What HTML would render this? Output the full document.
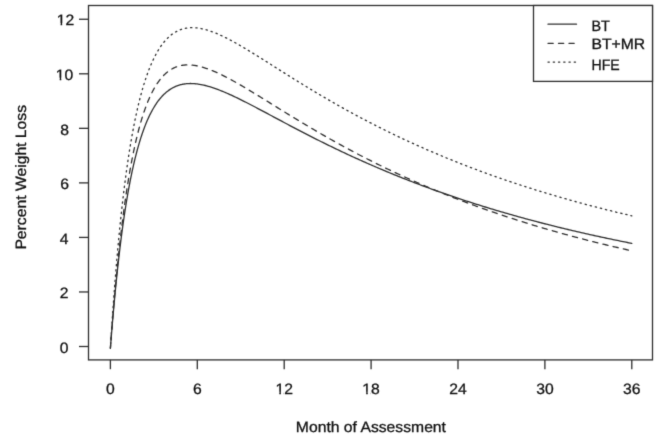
<!DOCTYPE html>
<html><head><meta charset="utf-8"><style>
html,body{margin:0;padding:0;background:#fff;}
svg{display:block;}
text{font-family:"Liberation Sans",sans-serif;font-size:15.0px;fill:#111;stroke:#111;stroke-width:0.3px;text-rendering:geometricPrecision;}
</style></head><body>
<svg width="656" height="434" viewBox="0 0 656 434">
<defs><filter id="bl" x="0" y="0" width="656" height="434" filterUnits="userSpaceOnUse" color-interpolation-filters="sRGB"><feConvolveMatrix order="3" preserveAlpha="true" kernelMatrix="0.01331 0.08876 0.01331 0.08876 0.59172 0.08876 0.01331 0.08876 0.01331"/></filter></defs>
<g filter="url(#bl)">
<rect width="656" height="434" fill="#fff"/>
<rect x="88.5" y="5.5" width="564.0" height="354.4" fill="none" stroke="#303030" stroke-width="1.31"/>
<line x1="79" y1="346.50" x2="88.5" y2="346.50" stroke="#303030" stroke-width="1.31"/>
<g transform="translate(64.10,353.10) scale(1.0470,1)"><text x="0" y="0" text-anchor="middle">0</text></g>
<line x1="79" y1="291.96" x2="88.5" y2="291.96" stroke="#303030" stroke-width="1.31"/>
<g transform="translate(64.20,298.47) scale(1.0470,1)"><text x="0" y="0" text-anchor="middle">2</text></g>
<line x1="79" y1="237.42" x2="88.5" y2="237.42" stroke="#303030" stroke-width="1.31"/>
<g transform="translate(64.20,243.84) scale(1.0470,1)"><text x="0" y="0" text-anchor="middle">4</text></g>
<line x1="79" y1="182.88" x2="88.5" y2="182.88" stroke="#303030" stroke-width="1.31"/>
<g transform="translate(64.50,189.20) scale(1.0470,1)"><text x="0" y="0" text-anchor="middle">6</text></g>
<line x1="79" y1="128.34" x2="88.5" y2="128.34" stroke="#303030" stroke-width="1.31"/>
<g transform="translate(64.50,134.57) scale(1.0470,1)"><text x="0" y="0" text-anchor="middle">8</text></g>
<line x1="79" y1="73.80" x2="88.5" y2="73.80" stroke="#303030" stroke-width="1.31"/>
<g transform="translate(64.60,79.94) scale(1.0470,1)"><text x="0" y="0" text-anchor="middle">10</text><rect x="-8.64" y="-2.25" width="3.95" height="3.45" fill="#fff"/><rect x="-3.16" y="-2.25" width="2.66" height="3.45" fill="#fff"/></g>
<line x1="79" y1="19.26" x2="88.5" y2="19.26" stroke="#303030" stroke-width="1.31"/>
<g transform="translate(65.50,25.31) scale(1.0470,1)"><text x="0" y="0" text-anchor="middle">12</text><rect x="-8.64" y="-2.25" width="3.95" height="3.45" fill="#fff"/><rect x="-3.16" y="-2.25" width="2.66" height="3.45" fill="#fff"/></g>
<line x1="110.40" y1="359.9" x2="110.40" y2="369.2" stroke="#303030" stroke-width="1.31"/>
<g transform="translate(110.40,393.90) scale(1.0470,1)"><text x="0" y="0" text-anchor="middle">0</text></g>
<line x1="197.30" y1="359.9" x2="197.30" y2="369.2" stroke="#303030" stroke-width="1.31"/>
<g transform="translate(197.30,393.90) scale(1.0470,1)"><text x="0" y="0" text-anchor="middle">6</text></g>
<line x1="284.20" y1="359.9" x2="284.20" y2="369.2" stroke="#303030" stroke-width="1.31"/>
<g transform="translate(284.20,393.90) scale(1.0470,1)"><text x="0" y="0" text-anchor="middle">12</text><rect x="-8.64" y="-2.25" width="3.95" height="3.45" fill="#fff"/><rect x="-3.16" y="-2.25" width="2.66" height="3.45" fill="#fff"/></g>
<line x1="371.09" y1="359.9" x2="371.09" y2="369.2" stroke="#303030" stroke-width="1.31"/>
<g transform="translate(371.09,393.90) scale(1.0470,1)"><text x="0" y="0" text-anchor="middle">18</text><rect x="-8.64" y="-2.25" width="3.95" height="3.45" fill="#fff"/><rect x="-3.16" y="-2.25" width="2.66" height="3.45" fill="#fff"/></g>
<line x1="457.99" y1="359.9" x2="457.99" y2="369.2" stroke="#303030" stroke-width="1.31"/>
<g transform="translate(457.99,393.90) scale(1.0470,1)"><text x="0" y="0" text-anchor="middle">24</text></g>
<line x1="544.89" y1="359.9" x2="544.89" y2="369.2" stroke="#303030" stroke-width="1.31"/>
<g transform="translate(544.89,393.90) scale(1.0470,1)"><text x="0" y="0" text-anchor="middle">30</text></g>
<line x1="631.79" y1="359.9" x2="631.79" y2="369.2" stroke="#303030" stroke-width="1.31"/>
<g transform="translate(631.79,393.90) scale(1.0470,1)"><text x="0" y="0" text-anchor="middle">36</text></g>
<g transform="translate(370.90,432.00) scale(1.0470,1)"><text x="0" y="0" text-anchor="middle">Month of Assessment</text></g>
<g transform="translate(25.50,177.30) rotate(-90) scale(1.0470,1)"><text x="0" y="0" text-anchor="middle">Percent Weight Loss</text></g>
<path d="M110.40,348.08 L111.12,338.75 L111.85,329.75 L112.57,321.07 L113.30,312.69 L114.02,304.60 L114.74,296.79 L115.47,289.25 L116.19,281.96 L116.92,274.93 L117.64,268.14 L118.37,261.58 L119.09,255.24 L119.81,249.12 L120.54,243.20 L121.26,237.48 L121.99,231.96 L122.71,226.62 L123.43,221.46 L124.16,216.47 L124.88,211.65 L125.61,206.99 L126.33,202.48 L127.06,198.12 L127.78,193.91 L128.50,189.84 L129.23,185.90 L129.95,182.09 L130.68,178.41 L131.40,174.85 L132.12,171.40 L132.85,168.07 L133.57,164.85 L134.30,161.73 L135.02,158.72 L135.75,155.80 L136.47,152.98 L137.19,150.26 L137.92,147.62 L138.64,145.07 L139.37,142.61 L140.09,140.22 L140.81,137.92 L141.54,135.69 L142.26,133.53 L142.99,131.45 L143.71,129.44 L144.44,127.49 L145.16,125.61 L145.88,123.79 L146.61,122.04 L147.33,120.34 L148.06,118.70 L148.78,117.12 L149.50,115.59 L150.23,114.12 L150.95,112.69 L151.68,111.32 L152.40,109.99 L153.12,108.71 L153.85,107.48 L154.57,106.29 L155.30,105.14 L156.02,104.04 L156.75,102.98 L157.47,101.95 L158.19,100.97 L158.92,100.02 L159.64,99.10 L160.37,98.23 L161.09,97.38 L161.81,96.57 L162.54,95.80 L163.26,95.05 L163.99,94.34 L164.71,93.65 L165.44,93.00 L166.16,92.37 L166.88,91.77 L167.61,91.19 L168.33,90.65 L169.06,90.13 L169.78,89.63 L170.50,89.15 L171.23,88.70 L171.95,88.28 L172.68,87.87 L173.40,87.49 L174.13,87.13 L174.85,86.79 L175.57,86.46 L176.30,86.16 L177.02,85.88 L177.75,85.61 L178.47,85.37 L179.19,85.14 L179.92,84.93 L180.64,84.73 L181.37,84.55 L182.09,84.39 L182.81,84.24 L183.54,84.11 L184.26,83.99 L184.99,83.88 L185.71,83.79 L186.44,83.72 L187.16,83.65 L187.88,83.60 L188.61,83.56 L189.33,83.54 L190.06,83.52 L190.78,83.52 L191.50,83.53 L192.23,83.55 L192.95,83.58 L193.68,83.62 L194.40,83.67 L195.13,83.73 L195.85,83.80 L196.57,83.88 L197.30,83.97 L198.02,84.07 L199.47,84.29 L200.92,84.55 L202.37,84.84 L203.83,85.16 L205.28,85.50 L206.73,85.88 L208.18,86.27 L209.63,86.70 L211.08,87.14 L212.53,87.61 L213.98,88.10 L215.43,88.61 L216.88,89.13 L218.33,89.68 L219.78,90.24 L221.23,90.81 L222.68,91.40 L224.14,92.01 L225.59,92.63 L227.04,93.26 L228.49,93.90 L229.94,94.55 L231.39,95.21 L232.84,95.89 L234.29,96.57 L235.74,97.26 L237.19,97.95 L238.64,98.66 L240.09,99.37 L241.54,100.09 L242.99,100.82 L244.45,101.55 L245.90,102.28 L247.35,103.02 L248.80,103.77 L250.25,104.51 L251.70,105.27 L253.15,106.02 L254.60,106.78 L256.05,107.54 L257.50,108.31 L258.95,109.07 L260.40,109.84 L261.85,110.61 L263.30,111.38 L264.76,112.15 L266.21,112.93 L267.66,113.70 L269.11,114.47 L270.56,115.25 L272.01,116.03 L273.46,116.80 L274.91,117.58 L276.36,118.35 L277.81,119.13 L279.26,119.90 L280.71,120.67 L282.16,121.45 L283.61,122.22 L285.07,122.99 L286.52,123.76 L287.97,124.53 L289.42,125.30 L290.87,126.06 L292.32,126.83 L293.77,127.59 L295.22,128.35 L296.67,129.11 L298.12,129.87 L299.57,130.63 L301.02,131.38 L302.47,132.13 L303.92,132.88 L305.38,133.63 L306.83,134.38 L308.28,135.12 L309.73,135.87 L311.18,136.61 L312.63,137.34 L314.08,138.08 L315.53,138.81 L316.98,139.54 L318.43,140.27 L319.88,141.00 L321.33,141.72 L322.78,142.44 L324.23,143.16 L325.69,143.87 L327.14,144.59 L328.59,145.30 L330.04,146.01 L331.49,146.71 L332.94,147.41 L334.39,148.11 L335.84,148.81 L337.29,149.51 L338.74,150.20 L340.19,150.89 L341.64,151.58 L343.09,152.26 L344.55,152.94 L346.00,153.62 L347.45,154.30 L348.90,154.97 L350.35,155.64 L351.80,156.31 L353.25,156.98 L354.70,157.64 L356.15,158.30 L357.60,158.96 L359.05,159.61 L360.50,160.26 L361.95,160.91 L363.40,161.56 L364.86,162.20 L366.31,162.85 L367.76,163.48 L369.21,164.12 L370.66,164.75 L372.11,165.38 L373.56,166.01 L375.01,166.64 L376.46,167.26 L377.91,167.88 L379.36,168.50 L380.81,169.11 L382.26,169.72 L383.71,170.33 L385.17,170.94 L386.62,171.55 L388.07,172.15 L389.52,172.75 L390.97,173.34 L392.42,173.94 L393.87,174.53 L395.32,175.12 L396.77,175.70 L398.22,176.29 L399.67,176.87 L401.12,177.45 L402.57,178.02 L404.02,178.60 L405.48,179.17 L406.93,179.74 L408.38,180.30 L409.83,180.87 L411.28,181.43 L412.73,181.99 L414.18,182.54 L415.63,183.10 L417.08,183.65 L418.53,184.20 L419.98,184.74 L421.43,185.29 L422.88,185.83 L424.33,186.37 L425.79,186.91 L427.24,187.44 L428.69,187.97 L430.14,188.50 L431.59,189.03 L433.04,189.56 L434.49,190.08 L435.94,190.60 L437.39,191.12 L438.84,191.64 L440.29,192.15 L441.74,192.66 L443.19,193.17 L444.64,193.68 L446.10,194.18 L447.55,194.69 L449.00,195.19 L450.45,195.68 L451.90,196.18 L453.35,196.67 L454.80,197.17 L456.25,197.66 L457.70,198.14 L459.15,198.63 L460.60,199.11 L462.05,199.59 L463.50,200.07 L464.95,200.55 L466.41,201.02 L467.86,201.49 L469.31,201.96 L470.76,202.43 L472.21,202.90 L473.66,203.36 L475.11,203.82 L476.56,204.28 L478.01,204.74 L479.46,205.20 L480.91,205.65 L482.36,206.10 L483.81,206.55 L485.27,207.00 L486.72,207.45 L488.17,207.89 L489.62,208.33 L491.07,208.77 L492.52,209.21 L493.97,209.65 L495.42,210.08 L496.87,210.51 L498.32,210.94 L499.77,211.37 L501.22,211.80 L502.67,212.22 L504.12,212.65 L505.58,213.07 L507.03,213.49 L508.48,213.90 L509.93,214.32 L511.38,214.73 L512.83,215.14 L514.28,215.55 L515.73,215.96 L517.18,216.37 L518.63,216.77 L520.08,217.17 L521.53,217.57 L522.98,217.97 L524.43,218.37 L525.89,218.77 L527.34,219.16 L528.79,219.55 L530.24,219.94 L531.69,220.33 L533.14,220.72 L534.59,221.10 L536.04,221.48 L537.49,221.87 L538.94,222.25 L540.39,222.62 L541.84,223.00 L543.29,223.37 L544.74,223.75 L546.20,224.12 L547.65,224.49 L549.10,224.86 L550.55,225.22 L552.00,225.59 L553.45,225.95 L554.90,226.31 L556.35,226.67 L557.80,227.03 L559.25,227.39 L560.70,227.74 L562.15,228.10 L563.60,228.45 L565.05,228.80 L566.51,229.15 L567.96,229.50 L569.41,229.84 L570.86,230.19 L572.31,230.53 L573.76,230.87 L575.21,231.21 L576.66,231.55 L578.11,231.89 L579.56,232.22 L581.01,232.55 L582.46,232.89 L583.91,233.22 L585.36,233.55 L586.82,233.87 L588.27,234.20 L589.72,234.53 L591.17,234.85 L592.62,235.17 L594.07,235.49 L595.52,235.81 L596.97,236.13 L598.42,236.45 L599.87,236.76 L601.32,237.07 L602.77,237.39 L604.22,237.70 L605.68,238.01 L607.13,238.31 L608.58,238.62 L610.03,238.93 L611.48,239.23 L612.93,239.53 L614.38,239.83 L615.83,240.13 L617.28,240.43 L618.73,240.73 L620.18,241.03 L621.63,241.32 L623.08,241.61 L624.53,241.91 L625.99,242.20 L627.44,242.49 L628.89,242.77 L630.34,243.06 L631.79,243.35" fill="none" stroke="#303030" stroke-width="1.31" stroke-linejoin="round" stroke-linecap="round"/>
<path d="M110.40,348.10 L111.12,338.40 L111.85,329.01 L112.57,319.91 L113.30,311.11 L114.02,302.59 L114.74,294.33 L115.47,286.34 L116.19,278.61 L116.92,271.12 L117.64,263.87 L118.37,256.85 L119.09,250.05 L119.81,243.47 L120.54,237.10 L121.26,230.93 L121.99,224.96 L122.71,219.18 L123.43,213.58 L124.16,208.16 L124.88,202.92 L125.61,197.84 L126.33,192.93 L127.06,188.17 L127.78,183.57 L128.50,179.11 L129.23,174.80 L129.95,170.62 L130.68,166.59 L131.40,162.68 L132.12,158.90 L132.85,155.24 L133.57,151.70 L134.30,148.28 L135.02,144.96 L135.75,141.76 L136.47,138.66 L137.19,135.67 L137.92,132.77 L138.64,129.97 L139.37,127.26 L140.09,124.65 L140.81,122.12 L141.54,119.67 L142.26,117.31 L142.99,115.03 L143.71,112.83 L144.44,110.70 L145.16,108.65 L145.88,106.66 L146.61,104.75 L147.33,102.90 L148.06,101.12 L148.78,99.40 L149.50,97.74 L150.23,96.14 L150.95,94.60 L151.68,93.12 L152.40,91.69 L153.12,90.31 L153.85,88.99 L154.57,87.71 L155.30,86.48 L156.02,85.30 L156.75,84.17 L157.47,83.08 L158.19,82.03 L158.92,81.03 L159.64,80.07 L160.37,79.14 L161.09,78.26 L161.81,77.41 L162.54,76.60 L163.26,75.82 L163.99,75.08 L164.71,74.38 L165.44,73.70 L166.16,73.06 L166.88,72.44 L167.61,71.86 L168.33,71.31 L169.06,70.78 L169.78,70.28 L170.50,69.81 L171.23,69.37 L171.95,68.95 L172.68,68.55 L173.40,68.18 L174.13,67.83 L174.85,67.51 L175.57,67.20 L176.30,66.92 L177.02,66.66 L177.75,66.42 L178.47,66.20 L179.19,66.00 L179.92,65.81 L180.64,65.65 L181.37,65.50 L182.09,65.37 L182.81,65.26 L183.54,65.16 L184.26,65.08 L184.99,65.01 L185.71,64.96 L186.44,64.92 L187.16,64.90 L187.88,64.89 L188.61,64.90 L189.33,64.92 L190.06,64.95 L190.78,64.99 L191.50,65.05 L192.23,65.12 L192.95,65.20 L193.68,65.29 L194.40,65.39 L195.13,65.50 L195.85,65.62 L196.57,65.75 L197.30,65.89 L198.02,66.05 L199.47,66.38 L200.92,66.74 L202.37,67.14 L203.83,67.57 L205.28,68.03 L206.73,68.52 L208.18,69.03 L209.63,69.57 L211.08,70.14 L212.53,70.72 L213.98,71.33 L215.43,71.96 L216.88,72.61 L218.33,73.27 L219.78,73.96 L221.23,74.65 L222.68,75.37 L224.14,76.09 L225.59,76.84 L227.04,77.59 L228.49,78.36 L229.94,79.13 L231.39,79.92 L232.84,80.72 L234.29,81.52 L235.74,82.34 L237.19,83.16 L238.64,83.99 L240.09,84.83 L241.54,85.67 L242.99,86.52 L244.45,87.38 L245.90,88.24 L247.35,89.10 L248.80,89.97 L250.25,90.85 L251.70,91.73 L253.15,92.61 L254.60,93.49 L256.05,94.38 L257.50,95.27 L258.95,96.16 L260.40,97.05 L261.85,97.94 L263.30,98.84 L264.76,99.74 L266.21,100.64 L267.66,101.53 L269.11,102.43 L270.56,103.33 L272.01,104.23 L273.46,105.13 L274.91,106.03 L276.36,106.93 L277.81,107.83 L279.26,108.73 L280.71,109.62 L282.16,110.52 L283.61,111.41 L285.07,112.31 L286.52,113.20 L287.97,114.09 L289.42,114.98 L290.87,115.87 L292.32,116.75 L293.77,117.64 L295.22,118.52 L296.67,119.40 L298.12,120.28 L299.57,121.15 L301.02,122.03 L302.47,122.90 L303.92,123.77 L305.38,124.64 L306.83,125.50 L308.28,126.36 L309.73,127.22 L311.18,128.08 L312.63,128.93 L314.08,129.78 L315.53,130.63 L316.98,131.48 L318.43,132.32 L319.88,133.16 L321.33,134.00 L322.78,134.84 L324.23,135.67 L325.69,136.50 L327.14,137.32 L328.59,138.15 L330.04,138.97 L331.49,139.79 L332.94,140.60 L334.39,141.41 L335.84,142.22 L337.29,143.02 L338.74,143.83 L340.19,144.63 L341.64,145.42 L343.09,146.21 L344.55,147.00 L346.00,147.79 L347.45,148.57 L348.90,149.35 L350.35,150.13 L351.80,150.90 L353.25,151.68 L354.70,152.44 L356.15,153.21 L357.60,153.97 L359.05,154.73 L360.50,155.48 L361.95,156.23 L363.40,156.98 L364.86,157.73 L366.31,158.47 L367.76,159.21 L369.21,159.95 L370.66,160.68 L372.11,161.41 L373.56,162.14 L375.01,162.86 L376.46,163.58 L377.91,164.30 L379.36,165.01 L380.81,165.72 L382.26,166.43 L383.71,167.14 L385.17,167.84 L386.62,168.54 L388.07,169.23 L389.52,169.93 L390.97,170.62 L392.42,171.30 L393.87,171.99 L395.32,172.67 L396.77,173.34 L398.22,174.02 L399.67,174.69 L401.12,175.36 L402.57,176.02 L404.02,176.69 L405.48,177.35 L406.93,178.00 L408.38,178.66 L409.83,179.31 L411.28,179.96 L412.73,180.60 L414.18,181.24 L415.63,181.88 L417.08,182.52 L418.53,183.15 L419.98,183.78 L421.43,184.41 L422.88,185.04 L424.33,185.66 L425.79,186.28 L427.24,186.90 L428.69,187.51 L430.14,188.12 L431.59,188.73 L433.04,189.33 L434.49,189.94 L435.94,190.54 L437.39,191.13 L438.84,191.73 L440.29,192.32 L441.74,192.91 L443.19,193.50 L444.64,194.08 L446.10,194.66 L447.55,195.24 L449.00,195.82 L450.45,196.39 L451.90,196.96 L453.35,197.53 L454.80,198.09 L456.25,198.66 L457.70,199.22 L459.15,199.78 L460.60,200.33 L462.05,200.88 L463.50,201.43 L464.95,201.98 L466.41,202.53 L467.86,203.07 L469.31,203.61 L470.76,204.15 L472.21,204.68 L473.66,205.22 L475.11,205.75 L476.56,206.27 L478.01,206.80 L479.46,207.32 L480.91,207.84 L482.36,208.36 L483.81,208.88 L485.27,209.39 L486.72,209.90 L488.17,210.41 L489.62,210.92 L491.07,211.42 L492.52,211.93 L493.97,212.43 L495.42,212.92 L496.87,213.42 L498.32,213.91 L499.77,214.40 L501.22,214.89 L502.67,215.38 L504.12,215.86 L505.58,216.34 L507.03,216.82 L508.48,217.30 L509.93,217.77 L511.38,218.25 L512.83,218.72 L514.28,219.19 L515.73,219.65 L517.18,220.12 L518.63,220.58 L520.08,221.04 L521.53,221.50 L522.98,221.95 L524.43,222.41 L525.89,222.86 L527.34,223.31 L528.79,223.76 L530.24,224.20 L531.69,224.64 L533.14,225.09 L534.59,225.52 L536.04,225.96 L537.49,226.40 L538.94,226.83 L540.39,227.26 L541.84,227.69 L543.29,228.12 L544.74,228.54 L546.20,228.97 L547.65,229.39 L549.10,229.81 L550.55,230.23 L552.00,230.64 L553.45,231.06 L554.90,231.47 L556.35,231.88 L557.80,232.29 L559.25,232.69 L560.70,233.10 L562.15,233.50 L563.60,233.90 L565.05,234.30 L566.51,234.70 L567.96,235.09 L569.41,235.49 L570.86,235.88 L572.31,236.27 L573.76,236.66 L575.21,237.04 L576.66,237.43 L578.11,237.81 L579.56,238.19 L581.01,238.57 L582.46,238.95 L583.91,239.32 L585.36,239.70 L586.82,240.07 L588.27,240.44 L589.72,240.81 L591.17,241.18 L592.62,241.54 L594.07,241.90 L595.52,242.27 L596.97,242.63 L598.42,242.99 L599.87,243.34 L601.32,243.70 L602.77,244.05 L604.22,244.40 L605.68,244.76 L607.13,245.10 L608.58,245.45 L610.03,245.80 L611.48,246.14 L612.93,246.48 L614.38,246.83 L615.83,247.17 L617.28,247.50 L618.73,247.84 L620.18,248.17 L621.63,248.51 L623.08,248.84 L624.53,249.17 L625.99,249.50 L627.44,249.83 L628.89,250.15 L630.34,250.48 L631.79,250.80" fill="none" stroke="#303030" stroke-width="1.31" stroke-linecap="round" stroke-dasharray="5.24 5.24" stroke-dashoffset="2.22"/>
<path d="M110.40,348.09 L111.12,336.58 L111.85,325.51 L112.57,314.85 L113.30,304.60 L114.02,294.72 L114.74,285.21 L115.47,276.05 L116.19,267.23 L116.92,258.72 L117.64,250.53 L118.37,242.62 L119.09,235.00 L119.81,227.65 L120.54,220.56 L121.26,213.71 L121.99,207.11 L122.71,200.73 L123.43,194.57 L124.16,188.62 L124.88,182.88 L125.61,177.33 L126.33,171.97 L127.06,166.79 L127.78,161.78 L128.50,156.95 L129.23,152.27 L129.95,147.74 L130.68,143.37 L131.40,139.14 L132.12,135.04 L132.85,131.09 L133.57,127.26 L134.30,123.55 L135.02,119.97 L135.75,116.50 L136.47,113.14 L137.19,109.90 L137.92,106.75 L138.64,103.71 L139.37,100.77 L140.09,97.92 L140.81,95.16 L141.54,92.49 L142.26,89.91 L142.99,87.41 L143.71,85.00 L144.44,82.66 L145.16,80.39 L145.88,78.20 L146.61,76.08 L147.33,74.03 L148.06,72.05 L148.78,70.13 L149.50,68.28 L150.23,66.49 L150.95,64.75 L151.68,63.08 L152.40,61.46 L153.12,59.90 L153.85,58.39 L154.57,56.93 L155.30,55.52 L156.02,54.16 L156.75,52.85 L157.47,51.58 L158.19,50.36 L158.92,49.19 L159.64,48.05 L160.37,46.96 L161.09,45.91 L161.81,44.90 L162.54,43.93 L163.26,42.99 L163.99,42.09 L164.71,41.23 L165.44,40.40 L166.16,39.60 L166.88,38.84 L167.61,38.11 L168.33,37.41 L169.06,36.74 L169.78,36.10 L170.50,35.49 L171.23,34.91 L171.95,34.35 L172.68,33.82 L173.40,33.32 L174.13,32.85 L174.85,32.39 L175.57,31.97 L176.30,31.56 L177.02,31.18 L177.75,30.83 L178.47,30.49 L179.19,30.18 L179.92,29.88 L180.64,29.61 L181.37,29.36 L182.09,29.12 L182.81,28.91 L183.54,28.71 L184.26,28.53 L184.99,28.37 L185.71,28.23 L186.44,28.10 L187.16,27.99 L187.88,27.90 L188.61,27.82 L189.33,27.76 L190.06,27.71 L190.78,27.67 L191.50,27.65 L192.23,27.65 L192.95,27.65 L193.68,27.67 L194.40,27.71 L195.13,27.75 L195.85,27.81 L196.57,27.88 L197.30,27.96 L198.02,28.05 L199.47,28.27 L200.92,28.52 L202.37,28.82 L203.83,29.16 L205.28,29.53 L206.73,29.94 L208.18,30.37 L209.63,30.84 L211.08,31.34 L212.53,31.87 L213.98,32.42 L215.43,33.00 L216.88,33.60 L218.33,34.22 L219.78,34.86 L221.23,35.52 L222.68,36.21 L224.14,36.91 L225.59,37.62 L227.04,38.35 L228.49,39.10 L229.94,39.86 L231.39,40.63 L232.84,41.42 L234.29,42.22 L235.74,43.03 L237.19,43.85 L238.64,44.67 L240.09,45.51 L241.54,46.36 L242.99,47.21 L244.45,48.07 L245.90,48.94 L247.35,49.81 L248.80,50.69 L250.25,51.57 L251.70,52.46 L253.15,53.35 L254.60,54.25 L256.05,55.15 L257.50,56.05 L258.95,56.96 L260.40,57.87 L261.85,58.78 L263.30,59.69 L264.76,60.60 L266.21,61.52 L267.66,62.44 L269.11,63.35 L270.56,64.27 L272.01,65.19 L273.46,66.11 L274.91,67.03 L276.36,67.95 L277.81,68.87 L279.26,69.78 L280.71,70.70 L282.16,71.62 L283.61,72.53 L285.07,73.45 L286.52,74.36 L287.97,75.27 L289.42,76.18 L290.87,77.09 L292.32,78.00 L293.77,78.90 L295.22,79.81 L296.67,80.71 L298.12,81.61 L299.57,82.50 L301.02,83.40 L302.47,84.29 L303.92,85.18 L305.38,86.07 L306.83,86.95 L308.28,87.83 L309.73,88.71 L311.18,89.59 L312.63,90.47 L314.08,91.34 L315.53,92.21 L316.98,93.07 L318.43,93.94 L319.88,94.80 L321.33,95.65 L322.78,96.51 L324.23,97.36 L325.69,98.21 L327.14,99.05 L328.59,99.90 L330.04,100.73 L331.49,101.57 L332.94,102.40 L334.39,103.23 L335.84,104.06 L337.29,104.88 L338.74,105.71 L340.19,106.52 L341.64,107.34 L343.09,108.15 L344.55,108.96 L346.00,109.76 L347.45,110.56 L348.90,111.36 L350.35,112.15 L351.80,112.95 L353.25,113.73 L354.70,114.52 L356.15,115.30 L357.60,116.08 L359.05,116.86 L360.50,117.63 L361.95,118.40 L363.40,119.16 L364.86,119.93 L366.31,120.69 L367.76,121.44 L369.21,122.20 L370.66,122.95 L372.11,123.69 L373.56,124.44 L375.01,125.18 L376.46,125.91 L377.91,126.65 L379.36,127.38 L380.81,128.11 L382.26,128.83 L383.71,129.55 L385.17,130.27 L386.62,130.99 L388.07,131.70 L389.52,132.41 L390.97,133.11 L392.42,133.82 L393.87,134.52 L395.32,135.21 L396.77,135.91 L398.22,136.60 L399.67,137.29 L401.12,137.97 L402.57,138.65 L404.02,139.33 L405.48,140.01 L406.93,140.68 L408.38,141.35 L409.83,142.02 L411.28,142.68 L412.73,143.34 L414.18,144.00 L415.63,144.66 L417.08,145.31 L418.53,145.96 L419.98,146.61 L421.43,147.25 L422.88,147.89 L424.33,148.53 L425.79,149.16 L427.24,149.80 L428.69,150.43 L430.14,151.05 L431.59,151.68 L433.04,152.30 L434.49,152.92 L435.94,153.53 L437.39,154.15 L438.84,154.76 L440.29,155.37 L441.74,155.97 L443.19,156.57 L444.64,157.17 L446.10,157.77 L447.55,158.36 L449.00,158.96 L450.45,159.54 L451.90,160.13 L453.35,160.71 L454.80,161.30 L456.25,161.87 L457.70,162.45 L459.15,163.02 L460.60,163.60 L462.05,164.16 L463.50,164.73 L464.95,165.29 L466.41,165.85 L467.86,166.41 L469.31,166.97 L470.76,167.52 L472.21,168.07 L473.66,168.62 L475.11,169.17 L476.56,169.71 L478.01,170.25 L479.46,170.79 L480.91,171.33 L482.36,171.86 L483.81,172.39 L485.27,172.92 L486.72,173.45 L488.17,173.97 L489.62,174.49 L491.07,175.01 L492.52,175.53 L493.97,176.05 L495.42,176.56 L496.87,177.07 L498.32,177.58 L499.77,178.08 L501.22,178.59 L502.67,179.09 L504.12,179.59 L505.58,180.09 L507.03,180.58 L508.48,181.07 L509.93,181.56 L511.38,182.05 L512.83,182.54 L514.28,183.02 L515.73,183.50 L517.18,183.98 L518.63,184.46 L520.08,184.94 L521.53,185.41 L522.98,185.88 L524.43,186.35 L525.89,186.82 L527.34,187.28 L528.79,187.74 L530.24,188.20 L531.69,188.66 L533.14,189.12 L534.59,189.57 L536.04,190.03 L537.49,190.48 L538.94,190.92 L540.39,191.37 L541.84,191.81 L543.29,192.26 L544.74,192.70 L546.20,193.14 L547.65,193.57 L549.10,194.01 L550.55,194.44 L552.00,194.87 L553.45,195.30 L554.90,195.73 L556.35,196.15 L557.80,196.57 L559.25,196.99 L560.70,197.41 L562.15,197.83 L563.60,198.25 L565.05,198.66 L566.51,199.07 L567.96,199.48 L569.41,199.89 L570.86,200.30 L572.31,200.70 L573.76,201.10 L575.21,201.50 L576.66,201.90 L578.11,202.30 L579.56,202.70 L581.01,203.09 L582.46,203.48 L583.91,203.87 L585.36,204.26 L586.82,204.65 L588.27,205.03 L589.72,205.42 L591.17,205.80 L592.62,206.18 L594.07,206.56 L595.52,206.93 L596.97,207.31 L598.42,207.68 L599.87,208.05 L601.32,208.42 L602.77,208.79 L604.22,209.16 L605.68,209.52 L607.13,209.88 L608.58,210.25 L610.03,210.61 L611.48,210.96 L612.93,211.32 L614.38,211.68 L615.83,212.03 L617.28,212.38 L618.73,212.73 L620.18,213.08 L621.63,213.43 L623.08,213.77 L624.53,214.12 L625.99,214.46 L627.44,214.80 L628.89,215.14 L630.34,215.48 L631.79,215.82" fill="none" stroke="#303030" stroke-width="1.31" stroke-linecap="round" stroke-dasharray="1.31 3.93" stroke-dashoffset="1.225"/>
<rect x="533.5" y="5.5" width="119.0" height="75.9" fill="#fff" stroke="#303030" stroke-width="1.31"/>
<line x1="548" y1="24.20" x2="576.5" y2="24.20" stroke="#303030" stroke-width="1.31" stroke-linecap="round"/>
<g transform="translate(591.50,30.90) scale(0.9610,1)"><text x="0" y="0" text-anchor="start">BT</text></g>
<line x1="548" y1="43.30" x2="576.5" y2="43.30" stroke="#303030" stroke-width="1.31" stroke-linecap="round" stroke-dasharray="5.24 5.24"/>
<g transform="translate(591.50,49.30) scale(1.0470,1)"><text x="0" y="0" text-anchor="start">BT+MR</text></g>
<line x1="548" y1="62.10" x2="576.5" y2="62.10" stroke="#303030" stroke-width="1.31" stroke-linecap="round" stroke-dasharray="1.31 3.93"/>
<g transform="translate(591.50,69.50) scale(0.9400,1)"><text x="0" y="0" text-anchor="start">HFE</text></g>
</g>
</svg>
</body></html>
